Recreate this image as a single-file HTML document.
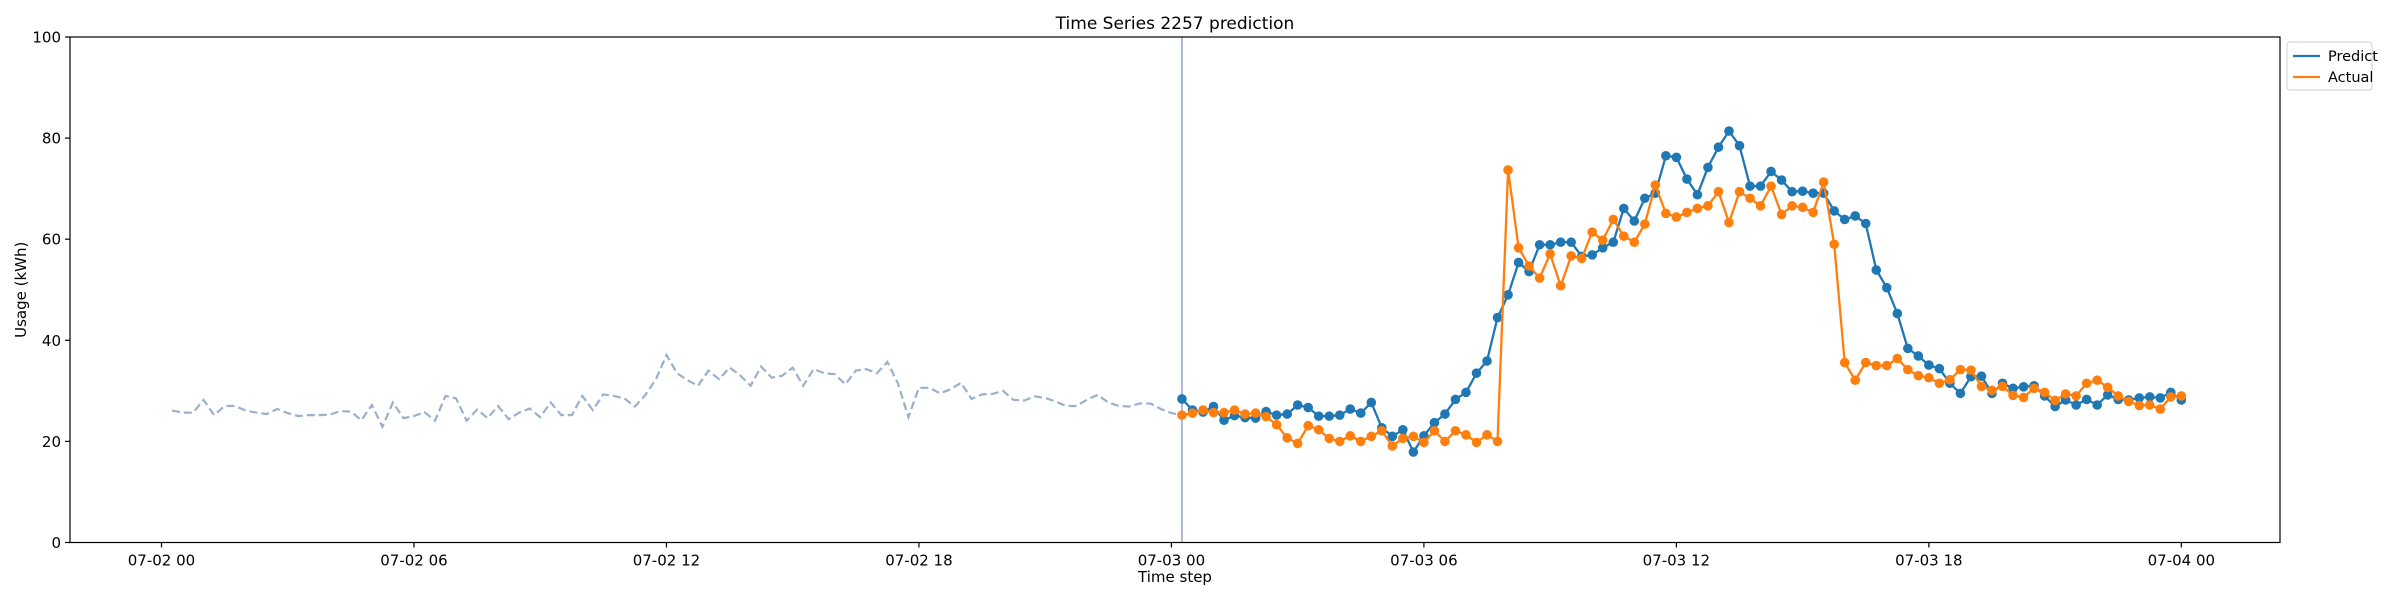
<!DOCTYPE html>
<html><head><meta charset="utf-8"><style>
html,body{margin:0;padding:0;background:#fff;}
svg{display:block;font-family:"DejaVu Sans","Liberation Sans",sans-serif;}
</style></head><body>
<svg id="chart" width="2400" height="600" xmlns="http://www.w3.org/2000/svg"></svg>
<script>
const historyValues=[26.1,25.7,25.7,28.2,25.2,27.0,27.0,26.1,25.7,25.4,26.4,25.6,25.0,25.2,25.2,25.3,26.0,25.9,24.2,27.2,22.9,27.7,24.6,25.0,25.8,24.1,29.0,28.5,24.1,26.3,24.6,27.0,24.4,25.7,26.5,24.8,27.7,25.2,25.2,29.0,26.2,29.3,29.0,28.5,26.9,29.2,32.3,37.1,33.5,32.1,31.0,34.0,32.3,34.6,33.1,31.0,34.8,32.6,33.0,34.6,31.0,34.3,33.5,33.3,31.3,34.0,34.3,33.5,35.7,31.5,24.8,30.6,30.6,29.5,30.3,31.6,28.4,29.3,29.4,30.0,28.2,28.1,28.9,28.6,27.9,27.0,27.0,28.3,29.2,27.7,27.0,26.9,27.5,27.5,26.4,25.6];
const predictValues=[28.4,26.2,25.8,26.9,24.2,25.1,24.7,24.6,25.9,25.2,25.4,27.2,26.7,25.0,25.0,25.2,26.4,25.6,27.7,22.7,21.0,22.3,17.9,21.1,23.7,25.4,28.3,29.7,33.5,35.9,44.5,49.0,55.4,53.6,58.9,58.9,59.4,59.4,56.6,56.9,58.3,59.4,66.1,63.6,68.1,69.1,76.5,76.2,71.9,68.8,74.2,78.2,81.4,78.5,70.5,70.5,73.4,71.7,69.4,69.5,69.1,69.1,65.6,63.9,64.6,63.1,53.9,50.4,45.3,38.4,36.9,35.1,34.4,31.5,29.5,32.8,32.9,29.5,31.5,30.5,30.8,31.0,29.0,26.9,28.2,27.2,28.3,27.2,29.2,28.3,28.2,28.6,28.8,28.6,29.7,28.2];
const actualValues=[25.2,25.6,26.2,25.7,25.7,26.2,25.4,25.6,24.9,23.3,20.7,19.6,23.1,22.3,20.6,20.0,21.1,20.0,21.0,22.1,19.1,20.6,21.0,19.8,22.1,20.0,22.1,21.3,19.8,21.3,20.0,73.7,58.3,54.7,52.3,57.1,50.8,56.7,56.2,61.4,59.8,63.9,60.6,59.4,63.0,70.7,65.1,64.4,65.3,66.1,66.6,69.4,63.3,69.4,68.1,66.6,70.5,64.9,66.6,66.3,65.3,71.3,59.0,35.6,32.1,35.6,35.0,35.0,36.4,34.2,33.0,32.6,31.5,32.2,34.2,34.1,30.9,30.1,30.9,29.1,28.7,30.5,29.7,28.1,29.4,29.0,31.5,32.1,30.7,29.0,27.9,27.1,27.2,26.4,28.8,29.0];
const xTickLabels=["07-02 00","07-02 06","07-02 12","07-02 18","07-03 00","07-03 06","07-03 12","07-03 18","07-04 00"];
const xTickHours=[0,6,12,18,24,30,36,42,48];
const yTicks=[0,20,40,60,80,100];

const L=70,R=2280,T=37,B=542.5;
const pxPerHour=42.08, x0=161.5;
const xHour=h=>x0+h*pxPerHour;
const yVal=v=>B-(v/100)*(B-T);
const histHour=i=>(i+1)*0.25;
const predHour=j=>24+(j+1)*0.25;

const svg=document.getElementById('chart');
const NS='http://www.w3.org/2000/svg';
function mk(tag,attrs,parent){const e=document.createElementNS(NS,tag);for(const k in attrs)e.setAttribute(k,attrs[k]);(parent||svg).appendChild(e);return e;}

let t=mk('text',{x:(L+R)/2,y:29,'text-anchor':'middle','font-size':17,fill:'#000'});
t.textContent='Time Series 2257 prediction';



yTicks.forEach(v=>{
  const y=yVal(v);
  const tk=mk('line',{x1:L-5,x2:L,y1:y,y2:y,stroke:'#000','stroke-width':1.2});
  
  
  const lb=mk('text',{x:L-9,y:y+5.5,'text-anchor':'end','font-size':15,fill:'#000'});
  lb.textContent=v;
  
  
});
xTickHours.forEach((h,i)=>{
  const x=xHour(h);
  const tk=mk('line',{x1:x,x2:x,y1:B,y2:B+5,stroke:'#000','stroke-width':1.2});
  
  
  const lb=mk('text',{x:x,y:B+23,'text-anchor':'middle','font-size':15,fill:'#000'});
  lb.textContent=xTickLabels[i];
  
  
});
let xl=mk('text',{x:(L+R)/2,y:582,'text-anchor':'middle','font-size':15,fill:'#000'});
xl.textContent='Time step';


let yl=mk('text',{x:26,y:(T+B)/2,'text-anchor':'middle','font-size':15,fill:'#000',transform:`rotate(-90 26 ${(T+B)/2})`});
yl.textContent='Usage (kWh)';



let hp=historyValues.map((v,i)=>`${xHour(histHour(i)).toFixed(1)},${yVal(v).toFixed(1)}`);
hp.push(`${xHour(predHour(0)).toFixed(1)},${yVal(actualValues[0]).toFixed(1)}`);
let hl=mk('polyline',{points:hp.join(' '),fill:'none',stroke:'#9ab0cc','stroke-width':2.2,'stroke-dasharray':'8,4'});



let vx=xHour(predHour(0));
let vl=mk('line',{x1:vx,x2:vx,y1:T,y2:B,stroke:'#a4b2d4','stroke-width':1.8});



function series(vals,color,name){
  const g=mk('g',{});
  
  
  const pts=vals.map((v,j)=>`${xHour(predHour(j)).toFixed(1)},${yVal(v).toFixed(1)}`).join(' ');
  const pl=mk('polyline',{points:pts,fill:'none',stroke:color,'stroke-width':2.3},g);
  
  
  vals.forEach((v,j)=>{
    const c=mk('circle',{cx:xHour(predHour(j)),cy:yVal(v),r:4.8,fill:color},g);
    
    
  });
}
series(predictValues,'#1f77b4','predict');
series(actualValues,'#ff7f0e','actual');

let fr=mk('rect',{x:L,y:T,width:R-L,height:B-T,fill:'none',stroke:'#000','stroke-width':1.2});



let lg=mk('g',{});


mk('rect',{x:2287,y:42,width:85,height:48,rx:3,fill:'#fff',stroke:'#d0d0d0','stroke-width':1},lg);
[['Predict','#1f77b4',56],['Actual','#ff7f0e',77]].forEach(([n,c,y])=>{
  const ln=mk('line',{x1:2293,x2:2320,y1:y,y2:y,stroke:c,'stroke-width':2.3},lg);
  
  
  const tx=mk('text',{x:2328,y:y+5,'font-size':14.5,fill:'#000'},lg);
  tx.textContent=n;
  
  
});
</script>
</body></html>
